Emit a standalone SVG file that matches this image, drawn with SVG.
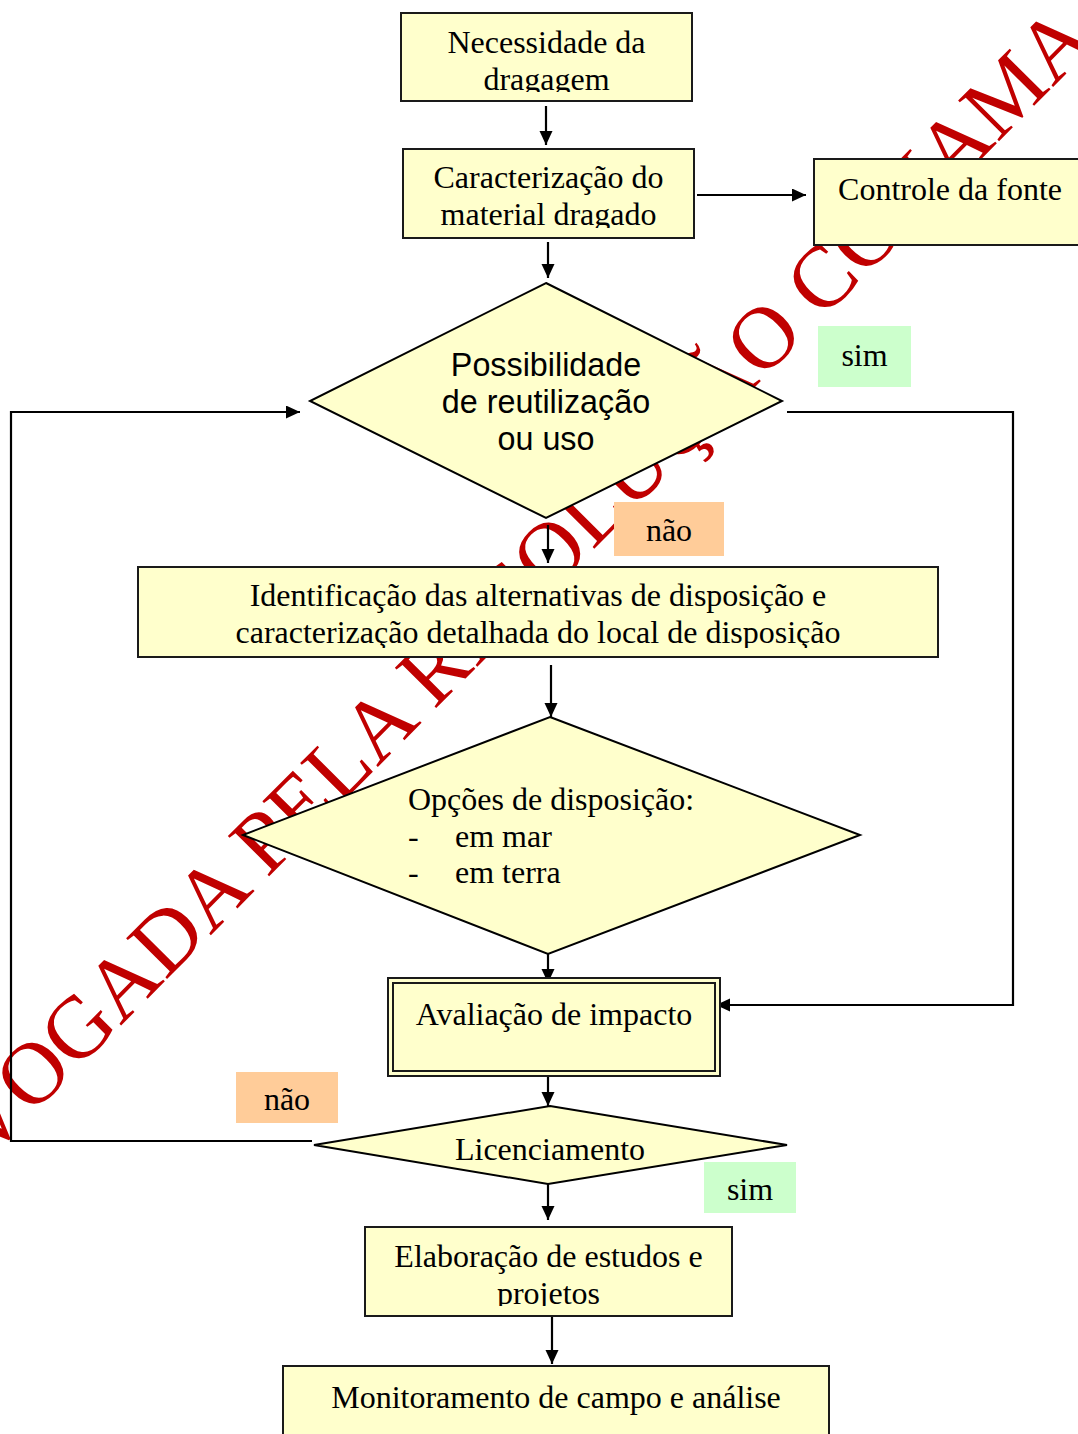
<svg xmlns="http://www.w3.org/2000/svg" width="1078" height="1434" viewBox="0 0 1078 1434">
<style>
.box{fill:#FFFFCC;stroke:#1a1a1a;stroke-width:2}
.dia{fill:#FFFFCC;stroke:#000;stroke-width:2}
.t{font-family:"Liberation Serif","Times New Roman",serif;font-size:32px;fill:#000}
.s{font-family:"Liberation Sans",Arial,sans-serif;font-size:32.3px;fill:#000}
.c{text-anchor:middle}
.ln{fill:none;stroke:#000;stroke-width:2.2}
.wm{font-family:"Liberation Serif","Times New Roman",serif;font-size:88px;fill:#C00000}
</style>
<defs>
<marker id="ah" markerUnits="userSpaceOnUse" markerWidth="16" markerHeight="14" refX="14" refY="6.5" orient="auto">
<path d="M0,0 L14,6.5 L0,13 z" fill="#000"/>
</marker>
<clipPath id="c1"><rect x="402" y="14" width="289" height="78"/></clipPath>
<clipPath id="c2"><rect x="404" y="150" width="289" height="78"/></clipPath>
<clipPath id="c7"><rect x="139" y="568" width="798" height="80"/></clipPath>
<clipPath id="c13"><rect x="366" y="1228" width="365" height="78"/></clipPath>
</defs>

<g id="watermark">
<text class="wm" transform="translate(-93,1241) rotate(-45.2)">REVOGADA PELA RESOLUÇÃO CONAMA</text>
</g>

<g id="connectors">
<line class="ln" x1="546" y1="106" x2="546" y2="145" marker-end="url(#ah)"/>
<line class="ln" x1="548" y1="242" x2="548" y2="278" marker-end="url(#ah)"/>
<line class="ln" x1="697" y1="195" x2="806" y2="195" marker-end="url(#ah)"/>
<line class="ln" x1="548" y1="525" x2="548" y2="563" marker-end="url(#ah)"/>
<line class="ln" x1="551" y1="665" x2="551" y2="717" marker-end="url(#ah)"/>
<line class="ln" x1="548" y1="954" x2="548" y2="983" marker-end="url(#ah)"/>
<line class="ln" x1="548" y1="1077" x2="548" y2="1106" marker-end="url(#ah)"/>
<line class="ln" x1="548" y1="1184" x2="548" y2="1220" marker-end="url(#ah)"/>
<line class="ln" x1="552" y1="1316" x2="552" y2="1364" marker-end="url(#ah)"/>
<polyline class="ln" points="787,412 1013,412 1013,1005 716,1005" marker-end="url(#ah)"/>
<polyline class="ln" points="312,1141 11,1141 11,412 300,412" marker-end="url(#ah)"/>
</g>

<g id="n1">
<rect class="box" x="401" y="13" width="291" height="88"/>
<g clip-path="url(#c1)">
<text class="t c" x="546.5" y="52.5">Necessidade da</text>
<text class="t c" x="546.5" y="90">dragagem</text>
</g>
</g>

<g id="n2">
<rect class="box" x="403" y="149" width="291" height="89"/>
<g clip-path="url(#c2)">
<text class="t c" x="548.5" y="188">Caracterização do</text>
<text class="t c" x="548.5" y="225">material dragado</text>
</g>
</g>

<g id="n3">
<rect class="box" x="814" y="159" width="272" height="86"/>
<text class="t c" x="950" y="200">Controle da fonte</text>
</g>

<g id="n4">
<polygon class="dia" points="546,283 782,401 546,518 310,401"/>
<text class="s c" x="546" y="376">Possibilidade</text>
<text class="s c" x="546" y="413">de reutilização</text>
<text class="s c" x="546" y="450">ou uso</text>
</g>

<g id="lbl_sim1">
<rect x="818" y="326" width="93" height="61" fill="#CCFFCC"/>
<text class="t c" x="864.5" y="366">sim</text>
</g>

<g id="lbl_nao1">
<rect x="614" y="502" width="110" height="54" fill="#FFCC99"/>
<text class="t c" x="669" y="541">não</text>
</g>

<g id="n7">
<rect class="box" x="138" y="567" width="800" height="90"/>
<g clip-path="url(#c7)">
<text class="t c" x="538" y="606">Identificação das alternativas de disposição e</text>
<text class="t c" x="538" y="643">caracterização detalhada do local de disposição</text>
</g>
</g>

<g id="n8">
<polygon class="dia" points="550,717 860,835 548,954 243,835"/>
<text class="t" x="408" y="810">Opções de disposição:</text>
<text class="t" x="408" y="847">-</text>
<text class="t" x="455" y="847">em mar</text>
<text class="t" x="408" y="883">-</text>
<text class="t" x="455" y="883">em terra</text>
</g>

<g id="n9">
<rect class="box" x="388" y="978" width="332" height="98"/>
<rect class="box" x="393" y="983" width="322" height="88"/>
<text class="t c" x="554" y="1025">Avaliação de impacto</text>
</g>

<g id="lbl_nao2">
<rect x="236" y="1072" width="102" height="51" fill="#FFCC99"/>
<text class="t c" x="287" y="1110">não</text>
</g>

<g id="n11">
<polygon class="dia" points="550,1106 787,1145 548,1184 314,1145"/>
<text class="t c" x="550" y="1160">Licenciamento</text>
</g>

<g id="lbl_sim2">
<rect x="704" y="1162" width="92" height="51" fill="#CCFFCC"/>
<text class="t c" x="750" y="1200">sim</text>
</g>

<g id="n13">
<rect class="box" x="365" y="1227" width="367" height="89"/>
<g clip-path="url(#c13)">
<text class="t c" x="548.5" y="1267">Elaboração de estudos e</text>
<text class="t c" x="548.5" y="1304">projetos</text>
</g>
</g>

<g id="n14">
<rect class="box" x="283" y="1366" width="546" height="80"/>
<text class="t c" x="556" y="1408">Monitoramento de campo e análise</text>
</g>
</svg>
